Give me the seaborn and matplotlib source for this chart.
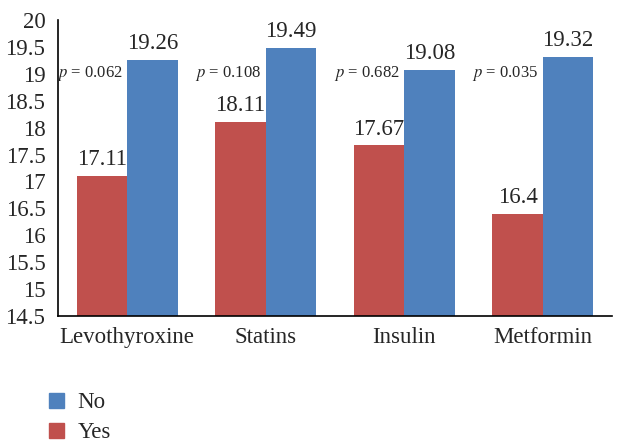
import pandas as pd
import numpy as np
import seaborn as sns
import matplotlib.pyplot as plt

# data
drugs = ["Levothyroxine", "Statins", "Insulin", "Metformin"]
yes_vals = [17.11, 18.11, 17.67, 16.4]
no_vals = [19.26, 19.49, 19.08, 19.32]
p_vals = ["0.062", "0.108", "0.682", "0.035"]
y_ticks = [14.5, 15, 15.5, 16, 16.5, 17, 17.5, 18, 18.5, 19, 19.5, 20]

df = pd.DataFrame({
    "drug": drugs * 2,
    "group": ["Yes"] * 4 + ["No"] * 4,
    "value": yes_vals + no_vals,
})

sns.set_style("white")
plt.rcParams["font.family"] = ["Liberation Serif", "DejaVu Serif"]
plt.rcParams["mathtext.fontset"] = "stix"

fig = plt.figure(figsize=(6.22, 4.48), dpi=100)
ax = fig.add_axes([0.093, 0.295, 0.891, 0.66])

sns.barplot(data=df, x="drug", y="value", hue="group", hue_order=["Yes", "No"],
            palette={"Yes": "#C0504D", "No": "#4F81BD"}, width=0.73,
            saturation=1, linewidth=0, ax=ax, legend=False)

ax.set_ylim(14.5, 20)
ax.set_yticks(y_ticks)
ax.set_yticklabels(["%g" % t for t in y_ticks])
ax.tick_params(axis="y", length=0, labelsize=16.5, pad=9)
ax.tick_params(axis="x", length=0, labelsize=16.5, pad=8)
ax.set_xlabel("")
ax.set_ylabel("")
ax.set_xlim(-0.5, 3.5)

for s in ["top", "right"]:
    ax.spines[s].set_visible(False)
for s in ["left", "bottom"]:
    ax.spines[s].set_color("black")
    ax.spines[s].set_linewidth(1.2)

for c in ax.containers:
    ax.bar_label(c, fmt="%g", fontsize=16.5, padding=4)

# p-values next to the pairs
for i, p in enumerate(p_vals):
    ax.text(i - 0.03, 19.0, "$p$ = " + p, ha="right", va="center", fontsize=12)

# legend below the chart
from matplotlib.patches import Patch
handles = [Patch(color="#4F81BD", label="No"), Patch(color="#C0504D", label="Yes")]
fig.legend(handles=handles, loc="upper left", bbox_to_anchor=(0.06, 0.15),
           frameon=False, fontsize=16.5, handlelength=0.65, handleheight=0.65,
           labelspacing=0.4, handletextpad=0.6, borderpad=0)

plt.savefig("out.png", dpi=100)
